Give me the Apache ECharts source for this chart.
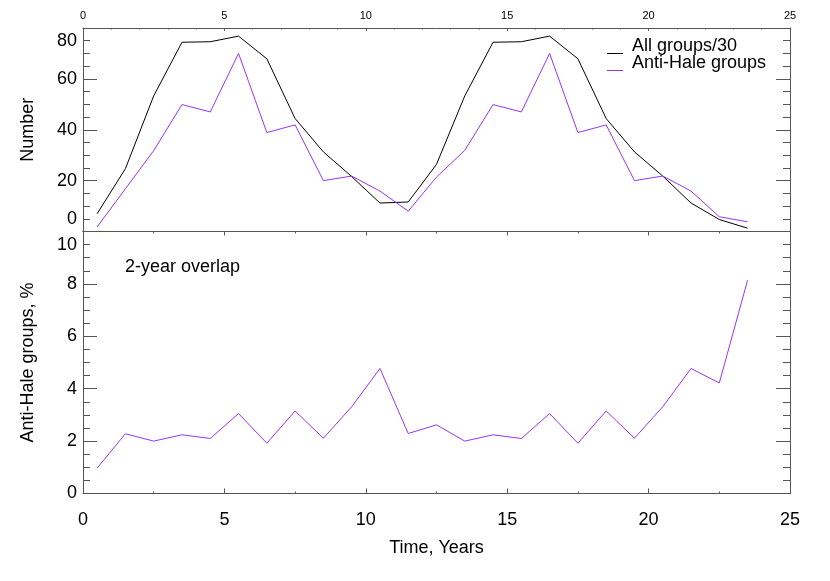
<!DOCTYPE html>
<html>
<head>
<meta charset="utf-8">
<title>Anti-Hale groups</title>
<script src="https://cdn.jsdelivr.net/npm/echarts@6/dist/echarts.min.js"></script>
<style>
  html, body { margin: 0; padding: 0; background: #fff; }
  #chart { width: 830px; height: 581px; }
</style>
</head>
<body>
<div id="chart"></div>
<script>
// time in years (bin centres)
const years = [0.5, 1.5, 2.5, 3.5, 4.5, 5.5, 6.5, 7.5, 8.5, 9.5, 10.5, 11.5,
  12.5, 13.5, 14.5, 15.5, 16.5, 17.5, 18.5, 19.5, 20.5, 21.5, 22.5, 23.5];
// top panel
const allGroups30 = [7.0, 24.7, 53.3, 74.4, 74.6, 76.8, 67.9, 44.4, 31.3, 21.6, 11.2, 11.6,
  26.4, 53.3, 74.4, 74.6, 76.8, 67.9, 44.4, 31.3, 21.8, 11.2, 4.7, 1.3];
const antiHale = [1.8, 16.8, 31.8, 49.9, 47.0, 70.0, 38.9, 41.9, 20.0, 21.8, 15.9, 8.0,
  21.4, 31.9, 49.9, 47.0, 70.0, 38.9, 41.9, 20.0, 21.8, 15.9, 5.8, 3.8];
// bottom panel
const antiHalePct = [0.97, 2.28, 2.0, 2.24, 2.1, 3.05, 1.92, 3.15, 2.11, 3.31, 4.77, 2.29,
  2.62, 2.0, 2.24, 2.1, 3.05, 1.92, 3.15, 2.11, 3.31, 4.77, 4.22, 8.14];
// tick labels, placed next to the ticks where the original plot has them (value -> text)
const topTickValues = [5, 20, 40, 60, 75];
const topTickText = ["0", "20", "40", "60", "80"];
const bottomTickValues = [0, 2, 4, 6, 8, 9.5];
const bottomTickText = ["0", "2", "4", "6", "8", "10"];

const font = "'Liberation Sans', Arial, Helvetica, sans-serif";
const axisColor = "#555";
const purple = "#9933ff";

const pairs = (ys) => years.map((x, i) => [x, ys[i]]);
const line = { show: true, onZero: false, lineStyle: { color: axisColor } };

// one y axis per side; left ones carry the labels
const frameY = (gridIndex, position, max, interval, labelValues, labelText, name) => ({
  type: "value",
  gridIndex: gridIndex,
  position: position,
  min: 0,
  max: max,
  interval: interval,
  name: name,
  nameLocation: "middle",
  nameGap: 46,
  nameRotate: 90,
  nameTextStyle: { color: "#000", fontSize: 18, fontFamily: font },
  axisLine: line,
  axisTick: { show: true, inside: true, length: 14, lineStyle: { color: axisColor } },
  minorTick: { show: true, splitNumber: 4, length: 7, lineStyle: { color: axisColor } },
  axisLabel: labelValues
    ? {
        show: true,
        customValues: labelValues,
        color: "#000",
        fontSize: 18,
        fontFamily: font,
        margin: 6,
        formatter: (v) => {
          const i = labelValues.findIndex((t) => Math.abs(t - v) < 1e-6);
          return i >= 0 ? labelText[i] : "";
        },
      }
    : { show: false },
  splitLine: { show: false },
});

const chart = echarts.init(document.getElementById("chart"));

chart.setOption({
  animation: false,
  backgroundColor: "#fff",
  grid: [
    { left: 83, top: 28, width: 707, height: 203.5 },
    { left: 83, top: 231.5, width: 707, height: 262 },
  ],
  legend: {
    data: ["All groups/30", "Anti-Hale groups"],
    orient: "vertical",
    left: 607,
    top: 37,
    padding: 0,
    itemWidth: 16,
    itemHeight: 18,
    itemGap: -1,
    symbolKeepAspect: false,
    icon: "path://M0,0 M0,16 L16,16 L16,17 L0,17 Z M16,18",
    textStyle: { color: "#000", fontSize: 18, fontFamily: font, padding: [0, 0, 0, 4] },
  },
  graphic: [
    {
      type: "text",
      left: 125,
      top: 258,
      style: { text: "2-year overlap", fill: "#000", font: "18px " + font },
    },
  ],
  xAxis: [
    {
      type: "value",
      gridIndex: 0,
      position: "top",
      min: 0,
      max: 25,
      interval: 5,
      axisLine: line,
      axisTick: { show: true, inside: true, length: 3, lineStyle: { color: axisColor } },
      minorTick: { show: true, splitNumber: 5, length: 1.5, lineStyle: { color: axisColor } },
      axisLabel: { color: "#000", fontSize: 11, fontFamily: font, margin: 7 },
      splitLine: { show: false },
    },
    {
      type: "value",
      gridIndex: 0,
      position: "bottom",
      min: 0,
      max: 25,
      interval: 5,
      axisLine: line,
      axisTick: { show: false },
      axisLabel: { show: false },
      splitLine: { show: false },
    },
    {
      type: "value",
      gridIndex: 1,
      position: "top",
      min: 0,
      max: 25,
      interval: 5,
      axisLine: line,
      axisTick: { show: true, inside: true, length: 4, lineStyle: { color: axisColor } },
      minorTick: { show: true, splitNumber: 2, length: 2, lineStyle: { color: axisColor } },
      axisLabel: { show: false },
      splitLine: { show: false },
    },
    {
      type: "value",
      gridIndex: 1,
      position: "bottom",
      min: 0,
      max: 25,
      interval: 5,
      name: "Time, Years",
      nameLocation: "middle",
      nameGap: 46,
      nameTextStyle: { color: "#000", fontSize: 18, fontFamily: font },
      axisLine: line,
      axisTick: { show: true, inside: true, length: 5, lineStyle: { color: axisColor } },
      minorTick: { show: true, splitNumber: 2, length: 2, lineStyle: { color: axisColor } },
      axisLabel: { color: "#000", fontSize: 18, fontFamily: font, margin: 18 },
      splitLine: { show: false },
    },
  ],
  yAxis: [
    frameY(0, "left", 80, 20, topTickValues, topTickText, "Number"),
    frameY(0, "right", 80, 20),
    frameY(1, "left", 10, 2, bottomTickValues, bottomTickText, "Anti-Hale groups, %"),
    frameY(1, "right", 10, 2),
  ],
  series: [
    {
      name: "All groups/30",
      type: "line",
      xAxisIndex: 0,
      yAxisIndex: 0,
      data: pairs(allGroups30),
      symbol: "none",
      color: "#000",
      lineStyle: { color: "#000", width: 1 },
    },
    {
      name: "Anti-Hale groups",
      type: "line",
      xAxisIndex: 0,
      yAxisIndex: 0,
      data: pairs(antiHale),
      symbol: "none",
      color: purple,
      lineStyle: { color: purple, width: 1 },
    },
    {
      name: "Anti-Hale %",
      type: "line",
      xAxisIndex: 3,
      yAxisIndex: 2,
      data: pairs(antiHalePct),
      symbol: "none",
      color: purple,
      lineStyle: { color: purple, width: 1 },
    },
  ],
});

window.onresize = function () {
  chart.resize();
};
</script>
</body>
</html>
